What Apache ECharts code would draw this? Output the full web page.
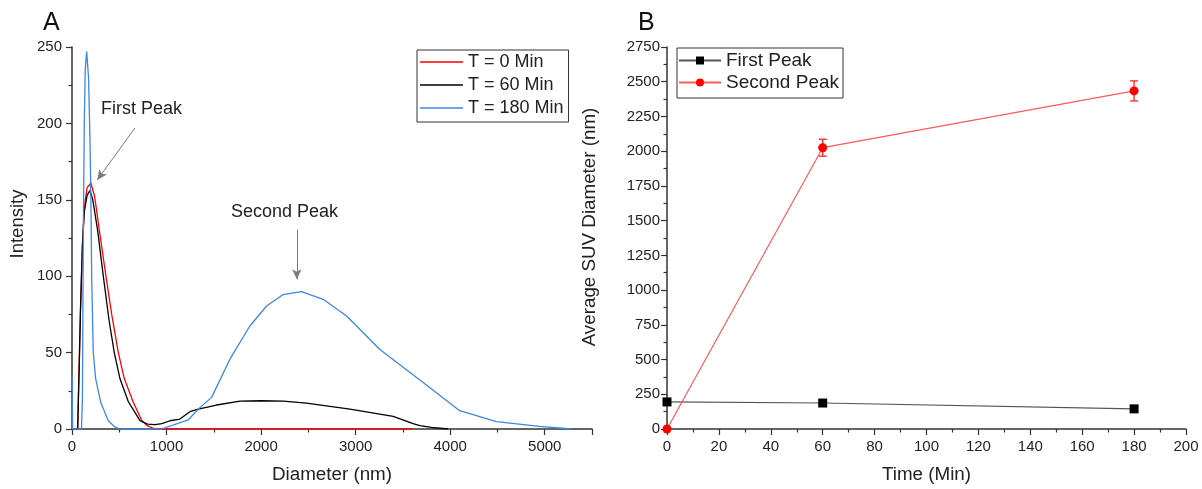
<!DOCTYPE html>
<html>
<head>
<meta charset="utf-8">
<script src="https://cdn.jsdelivr.net/npm/echarts@6/dist/echarts.min.js"></script>
<style>
  html, body { margin: 0; padding: 0; background: #fff; }
  #main { width: 1202px; height: 489px; }
</style>
</head>
<body>
<div id="main"></div>
<script>
// panel A : size distribution (diameter nm / intensity)
var t0Diameter = [1, 2, 4, 60, 70, 80, 90, 110, 130, 160, 200, 240, 289, 359, 420, 490, 553, 645, 737, 800, 877, 1500, 2500, 3600];
var t0Intensity = [0, 5, 0, 0, 28, 53, 79, 120, 145, 158, 161, 152, 130, 100, 75, 50, 33, 18, 5.5, 2, 0, 0, 0, 0];

var t60Diameter = [60, 70, 80, 90, 110, 130, 160, 190, 220, 271, 331, 390, 447, 507, 595, 719, 800, 877, 950, 1036, 1141, 1247, 1335, 1529, 1776, 2000, 2234, 2480, 2939, 3397, 3608, 3679, 3800, 3978];
var t60Intensity = [0, 25, 50, 78, 120, 142, 153, 156, 150, 130, 100, 72, 50, 33, 18, 5.5, 3.2, 2.8, 3.5, 5.4, 6.5, 11.3, 13, 15.7, 18.3, 18.5, 18.3, 17, 13, 8.3, 3.5, 2.2, 1, 0];

var t180Diameter = [1, 3, 6, 100, 110, 120, 130, 140, 155, 175, 190, 200, 208, 225, 250, 306, 384, 450, 500, 700, 948, 1229, 1335, 1477, 1670, 1881, 2058, 2234, 2427, 2657, 2904, 3256, 3714, 4101, 4489, 4947, 5282];
var t180Intensity = [0, 35, 0, 0, 20, 130, 200, 235, 247, 230, 190, 150, 100, 50, 33, 17, 5.4, 1.5, 0, 0, 0, 5.9, 13, 20.7, 45.7, 67.4, 80.5, 88, 89.9, 84.9, 74, 52, 30.5, 12, 4.8, 1.7, 0];

// panel B : average SUV diameter vs time
var times = [0, 60, 180];
var firstPeak = [195, 187, 145];
var secondPeak = [0, 2025, 2434];
var secondPeakErr = [0, 61, 72];

var font = '"Liberation Sans", Arial, sans-serif';

function pairs(xs, ys) {
    var out = [];
    for (var i = 0; i < xs.length; i++) out.push([xs[i], ys[i]]);
    return out;
}

function axisCommon(min, max, interval) {
    return {
        type: 'value',
        min: min,
        max: max,
        interval: interval,
        splitLine: { show: false },
        axisLine: { show: true, lineStyle: { color: '#333', width: 1.5 } },
        axisTick: { show: true, length: 6, lineStyle: { color: '#333', width: 1.2 } },
        minorTick: { show: true, splitNumber: 2, length: 3.5, lineStyle: { color: '#333', width: 1.2 } },
        axisLabel: {
            color: '#222', fontFamily: font, fontSize: 15,
            formatter: function (v) { return String(v); }
        }
    };
}

var xA = axisCommon(0, 5500, 1000);
xA.gridIndex = 0;
xA.axisLabel.margin = 10;
xA.axisLabel.showMaxLabel = false;
xA.name = 'Diameter (nm)';
xA.nameLocation = 'middle';
xA.nameGap = 36;
xA.nameTextStyle = { fontFamily: font, fontSize: 18.8, color: '#222' };

var yA = axisCommon(0, 250, 50);
yA.gridIndex = 0;
yA.axisLabel.margin = 10;

var xB = axisCommon(0, 200, 20);
xB.gridIndex = 1;
xB.axisLabel.margin = 10;
xB.name = 'Time (Min)';
xB.nameLocation = 'middle';
xB.nameGap = 36;
xB.nameTextStyle = { fontFamily: font, fontSize: 18.8, color: '#222' };

var yB = axisCommon(0, 2750, 250);
yB.gridIndex = 1;
yB.axisLabel.margin = 7;

var errData = [];
for (var i = 0; i < times.length; i++) {
    if (secondPeakErr[i] > 0) errData.push([times[i], secondPeak[i] - secondPeakErr[i], secondPeak[i] + secondPeakErr[i]]);
}

var chart = echarts.init(document.getElementById('main'));
chart.setOption({
    animation: false,
    backgroundColor: '#fff',
    grid: [
        { left: 72, top: 47, width: 520, height: 383 },
        { left: 667, top: 47, width: 519, height: 383 }
    ],
    xAxis: [xA, xB],
    yAxis: [yA, yB],
    legend: [
        {
            data: ['T = 0 Min', 'T = 60 Min', 'T = 180 Min'],
            orient: 'vertical',
            left: 417, top: 50,
            icon: 'rect',
            itemWidth: 43, itemHeight: 1.5, itemGap: 5,
            padding: [3, 5, 5, 3],
            borderColor: '#333', borderWidth: 1,
            textStyle: { fontFamily: font, fontSize: 18, color: '#222', lineHeight: 18 }
        },
        {
            data: ['First Peak', 'Second Peak'],
            orient: 'vertical',
            left: 677, top: 48,
            itemWidth: 42, itemHeight: 10, itemGap: 3,
            padding: [3, 4, 6, 1],
            borderColor: '#333', borderWidth: 1,
            textStyle: { fontFamily: font, fontSize: 19, color: '#222', lineHeight: 19 }
        }
    ],
    graphic: [
        { type: 'text', left: 43, top: 11, style: { text: 'A', font: '25px ' + font, fill: '#111' } },
        { type: 'text', left: 638, top: 11, style: { text: 'B', font: '25px ' + font, fill: '#111' } },
        { type: 'text', left: 101, top: 100, style: { text: 'First Peak', font: '18px ' + font, fill: '#222' } },
        { type: 'text', left: 231, top: 203, style: { text: 'Second Peak', font: '18px ' + font, fill: '#222' } },
        {
            type: 'text', x: 18, y: 224, rotation: Math.PI / 2,
            style: { text: 'Intensity', font: '18.5px ' + font, fill: '#222', align: 'center', verticalAlign: 'middle' }
        },
        {
            type: 'text', x: 590, y: 227, rotation: Math.PI / 2,
            style: { text: 'Average SUV Diameter (nm)', font: '18.8px ' + font, fill: '#222', align: 'center', verticalAlign: 'middle' }
        }
    ],
    series: [
        {
            name: 'T = 0 Min', type: 'line', xAxisIndex: 0, yAxisIndex: 0,
            symbol: 'none', color: '#ff0000',
            lineStyle: { color: '#ff0000', width: 1.3 },
            data: pairs(t0Diameter, t0Intensity)
        },
        {
            name: 'T = 60 Min', type: 'line', xAxisIndex: 0, yAxisIndex: 0,
            symbol: 'none', color: '#000',
            lineStyle: { color: '#000', width: 1.3 },
            data: pairs(t60Diameter, t60Intensity)
        },
        {
            name: 'T = 180 Min', type: 'line', xAxisIndex: 0, yAxisIndex: 0,
            symbol: 'none', color: '#3d86e6',
            lineStyle: { color: '#3d86e6', width: 1.3 },
            data: pairs(t180Diameter, t180Intensity),
            markLine: {
                silent: true,
                symbol: ['none', 'arrow'],
                symbolSize: [7, 10],
                label: { show: false },
                lineStyle: { color: '#7a7a7a', width: 1, type: 'solid' },
                data: [
                    [{ coord: [666, 197] }, { coord: [267, 163] }],
                    [{ coord: [2378, 130.5] }, { coord: [2378, 98] }]
                ]
            }
        },
        {
            name: 'First Peak', type: 'line', xAxisIndex: 1, yAxisIndex: 1,
            symbol: 'rect', symbolSize: 9, color: '#000',
            itemStyle: { color: '#000' },
            lineStyle: { color: '#555', width: 1.2 },
            data: pairs(times, firstPeak)
        },
        {
            name: 'Second Peak', type: 'line', xAxisIndex: 1, yAxisIndex: 1,
            symbol: 'circle', symbolSize: 9, color: '#ff0000',
            itemStyle: { color: '#ff0000' },
            lineStyle: { color: '#ff5a5a', width: 1.2 },
            data: pairs(times, secondPeak)
        },
        {
            name: 'err', type: 'custom', xAxisIndex: 1, yAxisIndex: 1,
            silent: true,
            renderItem: function (params, api) {
                var lo = api.coord([api.value(0), api.value(1)]);
                var hi = api.coord([api.value(0), api.value(2)]);
                var w = 4;
                var st = { stroke: '#ff3030', lineWidth: 1.4 };
                return {
                    type: 'group',
                    children: [
                        { type: 'line', shape: { x1: lo[0], y1: lo[1], x2: hi[0], y2: hi[1] }, style: st },
                        { type: 'line', shape: { x1: lo[0] - w, y1: lo[1], x2: lo[0] + w, y2: lo[1] }, style: st },
                        { type: 'line', shape: { x1: hi[0] - w, y1: hi[1], x2: hi[0] + w, y2: hi[1] }, style: st }
                    ]
                };
            },
            encode: { x: 0, y: [1, 2] },
            data: errData,
            z: 1
        }
    ]
});
</script>
</body>
</html>
